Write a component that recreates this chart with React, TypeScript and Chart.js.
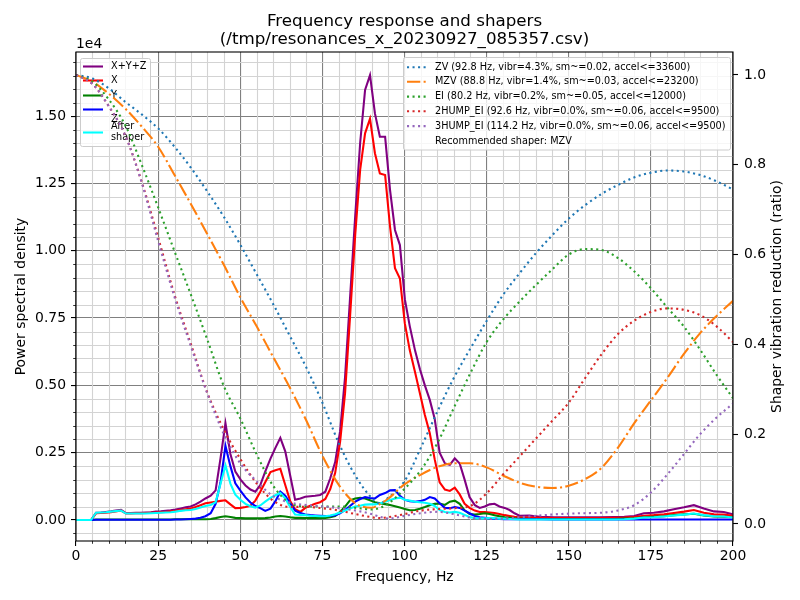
import React, { useEffect, useRef } from 'react';
import { Chart, registerables } from 'chart.js';

Chart.register(...registerables);

const FONT = "'DejaVu Sans', 'Liberation Sans', sans-serif";

// Frequency bins (Hz) of the measured spectra
const FREQS = [
  0, 1.5, 3.0, 4.6, 6.1, 7.6, 9.1, 10.6, 12.1, 13.7,
  15.2, 16.7, 18.2, 19.7, 21.2, 22.8, 24.3, 25.8, 27.3, 28.8,
  30.3, 31.9, 33.4, 34.9, 36.4, 37.9, 39.4, 41.0, 42.5, 44.0,
  45.5, 47.0, 48.5, 50.1, 51.6, 53.1, 54.6, 56.1, 57.6, 59.2,
  60.7, 62.2, 63.7, 65.2, 66.7, 68.3, 69.8, 71.3, 72.8, 74.3,
  75.9, 77.4, 78.9, 80.4, 81.9, 83.4, 85.0, 86.5, 88.0, 89.5,
  91.0, 92.5, 94.1, 95.6, 97.1, 98.6, 100.1, 101.6, 103.2, 104.7,
  106.2, 107.7, 109.2, 110.7, 112.3, 113.8, 115.3, 116.8, 118.3, 119.8,
  121.4, 122.9, 124.4, 125.9, 127.4, 128.9, 130.5, 132.0, 133.5, 135.0,
  138.0, 141.1, 145.6, 150.2, 154.7, 159.3, 163.8, 166.9, 169.9, 172.9,
  175.9, 179.0, 182.0, 185.1, 188.1, 191.1, 194.2, 197.2, 200.2,
];

// Power spectral density, in units of 1e4
const PSD_XYZ = [
  0, 0, 0, 0, 0.027, 0.028, 0.030, 0.032, 0.035, 0.038,
  0.026, 0.026, 0.027, 0.027, 0.028, 0.029, 0.031, 0.032, 0.034, 0.036,
  0.039, 0.043, 0.047, 0.050, 0.058, 0.068, 0.080, 0.090, 0.110, 0.230,
  0.359, 0.245, 0.180, 0.150, 0.128, 0.113, 0.105, 0.130, 0.180, 0.228,
  0.268, 0.305, 0.255, 0.165, 0.075, 0.080, 0.086, 0.088, 0.090, 0.093,
  0.105, 0.155, 0.215, 0.330, 0.530, 0.820, 1.130, 1.400, 1.597, 1.652,
  1.510, 1.423, 1.423, 1.225, 1.077, 1.021, 0.820, 0.720, 0.630, 0.560,
  0.500, 0.446, 0.375, 0.250, 0.210, 0.205, 0.229, 0.210, 0.150, 0.085,
  0.055, 0.045, 0.050, 0.058, 0.060, 0.050, 0.045, 0.037, 0.025, 0.016,
  0.017, 0.012, 0.010, 0.010, 0.010, 0.010, 0.011, 0.012, 0.015, 0.025,
  0.027, 0.032, 0.040, 0.047, 0.055, 0.043, 0.032, 0.030, 0.020,
];

const PSD_X = [
  0, 0, 0, 0, 0.025, 0.026, 0.027, 0.029, 0.032, 0.035,
  0.024, 0.024, 0.025, 0.025, 0.026, 0.027, 0.028, 0.029, 0.030, 0.032,
  0.034, 0.037, 0.040, 0.043, 0.048, 0.055, 0.062, 0.065, 0.068, 0.071,
  0.073, 0.058, 0.044, 0.045, 0.048, 0.053, 0.072, 0.105, 0.140, 0.178,
  0.185, 0.190, 0.130, 0.070, 0.040, 0.030, 0.045, 0.053, 0.060, 0.066,
  0.078, 0.115, 0.175, 0.290, 0.470, 0.750, 1.060, 1.300, 1.436, 1.490,
  1.362, 1.287, 1.281, 1.089, 0.935, 0.897, 0.730, 0.631, 0.550, 0.470,
  0.390, 0.322, 0.225, 0.140, 0.113, 0.108, 0.120, 0.095, 0.060, 0.045,
  0.035, 0.030, 0.030, 0.028, 0.026, 0.022, 0.018, 0.015, 0.012, 0.010,
  0.009, 0.008, 0.007, 0.007, 0.007, 0.007, 0.008, 0.009, 0.011, 0.016,
  0.018, 0.021, 0.026, 0.031, 0.037, 0.027, 0.021, 0.020, 0.015,
];

const PSD_Y = [
  0, 0, 0, 0, 0.002, 0.002, 0.002, 0.002, 0.002, 0.002,
  0.002, 0.002, 0.002, 0.002, 0.002, 0.002, 0.002, 0.002, 0.002, 0.002,
  0.003, 0.003, 0.003, 0.003, 0.003, 0.003, 0.003, 0.004, 0.007, 0.011,
  0.014, 0.011, 0.008, 0.007, 0.006, 0.006, 0.006, 0.006, 0.007, 0.009,
  0.013, 0.015, 0.013, 0.010, 0.008, 0.008, 0.007, 0.007, 0.007, 0.007,
  0.008, 0.010, 0.015, 0.030, 0.050, 0.073, 0.080, 0.082, 0.080, 0.073,
  0.066, 0.062, 0.059, 0.056, 0.051, 0.046, 0.041, 0.036, 0.037, 0.042,
  0.048, 0.055, 0.060, 0.061, 0.056, 0.068, 0.072, 0.060, 0.036, 0.022,
  0.020, 0.022, 0.025, 0.022, 0.018, 0.014, 0.010, 0.008, 0.006, 0.005,
  0.004, 0.004, 0.004, 0.004, 0.004, 0.004, 0.004, 0.005, 0.006, 0.010,
  0.012, 0.014, 0.018, 0.021, 0.023, 0.017, 0.013, 0.012, 0.010,
];

const PSD_Z = [
  0, 0, 0, 0, 0.001, 0.001, 0.001, 0.001, 0.001, 0.001,
  0.001, 0.001, 0.001, 0.001, 0.001, 0.001, 0.001, 0.001, 0.001, 0.001,
  0.002, 0.002, 0.003, 0.004, 0.005, 0.008, 0.014, 0.025, 0.060, 0.140,
  0.275, 0.200, 0.136, 0.108, 0.084, 0.065, 0.052, 0.044, 0.034, 0.042,
  0.070, 0.105, 0.090, 0.062, 0.035, 0.026, 0.020, 0.018, 0.017, 0.016,
  0.015, 0.015, 0.018, 0.025, 0.037, 0.052, 0.068, 0.078, 0.085, 0.082,
  0.080, 0.093, 0.100, 0.110, 0.111, 0.090, 0.075, 0.070, 0.068, 0.070,
  0.075, 0.085, 0.080, 0.062, 0.045, 0.044, 0.048, 0.045, 0.035, 0.025,
  0.015, 0.010, 0.008, 0.006, 0.005, 0.004, 0.003, 0.003, 0.003, 0.003,
  0.003, 0.003, 0.002, 0.002, 0.002, 0.002, 0.002, 0.002, 0.002, 0.002,
  0.002, 0.002, 0.002, 0.002, 0.002, 0.002, 0.002, 0.002, 0.002,
];

const PSD_SHAPED = [
  0, 0, 0, 0, 0.027, 0.028, 0.029, 0.031, 0.033, 0.035,
  0.024, 0.024, 0.024, 0.024, 0.024, 0.025, 0.026, 0.027, 0.028, 0.029,
  0.031, 0.034, 0.036, 0.037, 0.041, 0.046, 0.052, 0.056, 0.066, 0.135,
  0.203, 0.135, 0.094, 0.074, 0.060, 0.051, 0.046, 0.054, 0.068, 0.082,
  0.092, 0.100, 0.080, 0.048, 0.020, 0.019, 0.018, 0.016, 0.015, 0.014,
  0.014, 0.017, 0.021, 0.028, 0.035, 0.043, 0.050, 0.053, 0.057, 0.058,
  0.058, 0.061, 0.068, 0.074, 0.080, 0.083, 0.075, 0.072, 0.068, 0.066,
  0.064, 0.060, 0.052, 0.037, 0.030, 0.028, 0.030, 0.027, 0.019, 0.011,
  0.007, 0.006, 0.006, 0.007, 0.007, 0.005, 0.005, 0.004, 0.003, 0.002,
  0.002, 0.002, 0.002, 0.002, 0.002, 0.002, 0.002, 0.003, 0.005, 0.009,
  0.010, 0.013, 0.017, 0.020, 0.024, 0.018, 0.014, 0.013, 0.009,
];

// Frequencies (Hz) at which the shaper responses are listed
const SHAPER_FREQS = [
  0, 5, 10, 15, 20, 25, 30, 35, 40, 45,
  50, 55, 60, 65, 70, 75, 80, 85, 90, 92.5,
  95, 100, 105, 110, 115, 120, 125, 130, 135, 140,
  145, 150, 155, 160, 165, 170, 175, 180, 185, 190,
  195, 200,
];

// Remaining vibration ratio of each input shaper
const ZV_VALS = [
  1.000, 0.992, 0.970, 0.940, 0.912, 0.881, 0.840, 0.793, 0.740, 0.684,
  0.622, 0.556, 0.490, 0.420, 0.350, 0.270, 0.180, 0.108, 0.058, 0.046,
  0.058, 0.095, 0.170, 0.250, 0.325, 0.390, 0.452, 0.510, 0.558, 0.603,
  0.643, 0.680, 0.710, 0.735, 0.755, 0.772, 0.782, 0.787, 0.785, 0.777,
  0.763, 0.745,
];
const MZV_VALS = [
  1.000, 0.985, 0.958, 0.925, 0.885, 0.840, 0.777, 0.712, 0.645, 0.577,
  0.505, 0.440, 0.372, 0.305, 0.232, 0.152, 0.087, 0.046, 0.036, 0.044,
  0.056, 0.088, 0.110, 0.127, 0.135, 0.135, 0.126, 0.108, 0.092, 0.083,
  0.080, 0.085, 0.100, 0.125, 0.170, 0.225, 0.275, 0.325, 0.378, 0.425,
  0.463, 0.497,
];
const EI_VALS = [
  1.000, 0.985, 0.945, 0.888, 0.800, 0.705, 0.607, 0.510, 0.410, 0.307,
  0.235, 0.155, 0.085, 0.047, 0.039, 0.039, 0.039, 0.036, 0.032, 0.036,
  0.045, 0.078, 0.120, 0.180, 0.258, 0.335, 0.405, 0.455, 0.495, 0.532,
  0.567, 0.600, 0.612, 0.610, 0.592, 0.562, 0.525, 0.482, 0.440, 0.388,
  0.332, 0.280,
];
const HUMP2_VALS = [
  1.000, 0.980, 0.930, 0.865, 0.762, 0.638, 0.510, 0.400, 0.292, 0.210,
  0.145, 0.090, 0.052, 0.038, 0.038, 0.035, 0.030, 0.022, 0.015, 0.013,
  0.015, 0.022, 0.030, 0.033, 0.035, 0.040, 0.068, 0.110, 0.150, 0.190,
  0.230, 0.270, 0.325, 0.378, 0.423, 0.453, 0.472, 0.480, 0.477, 0.465,
  0.440, 0.405,
];
const HUMP3_VALS = [
  1.000, 0.980, 0.930, 0.865, 0.760, 0.630, 0.505, 0.395, 0.290, 0.200,
  0.135, 0.095, 0.062, 0.048, 0.042, 0.039, 0.035, 0.030, 0.022, 0.016,
  0.012, 0.018, 0.024, 0.027, 0.022, 0.014, 0.011, 0.012, 0.015, 0.018,
  0.021, 0.023, 0.024, 0.025, 0.030, 0.042, 0.070, 0.110, 0.155, 0.200,
  0.237, 0.268,
];

const TITLE_LINES = ['Frequency response and shapers', '(/tmp/resonances_x_20230927_085357.csv)'];
const X_LABEL = 'Frequency, Hz';
const Y_LABEL = 'Power spectral density';
const Y2_LABEL = 'Shaper vibration reduction (ratio)';
const RECOMMENDED = 'Recommended shaper: MZV';

const X_TICKS = [0, 25, 50, 75, 100, 125, 150, 175, 200];
const Y_TICKS = [0, 0.25, 0.5, 0.75, 1.0, 1.25, 1.5];
const Y2_TICKS = [0, 0.2, 0.4, 0.6, 0.8, 1.0];

const DOT = [2.08, 3.44];
const DASH_DOT = [13.3, 3.3, 2.08, 3.3];

const PSD_SERIES = [
  { label: 'X+Y+Z', values: PSD_XYZ, color: '#800080' },
  { label: 'X', values: PSD_X, color: '#ff0000' },
  { label: 'Y', values: PSD_Y, color: '#008000' },
  { label: 'Z', values: PSD_Z, color: '#0000ff' },
  { label: 'After\nshaper', values: PSD_SHAPED, color: '#00ffff' },
];

const SHAPER_SERIES = [
  { label: 'ZV (92.8 Hz, vibr=4.3%, sm~=0.02, accel<=33600)', values: ZV_VALS, color: '#1f77b4', dash: DOT },
  { label: 'MZV (88.8 Hz, vibr=1.4%, sm~=0.03, accel<=23200)', values: MZV_VALS, color: '#ff7f0e', dash: DASH_DOT },
  { label: 'EI (80.2 Hz, vibr=0.2%, sm~=0.05, accel<=12000)', values: EI_VALS, color: '#2ca02c', dash: DOT },
  { label: '2HUMP_EI (92.6 Hz, vibr=0.0%, sm~=0.06, accel<=9500)', values: HUMP2_VALS, color: '#d62728', dash: DOT },
  { label: '3HUMP_EI (114.2 Hz, vibr=0.0%, sm~=0.06, accel<=9500)', values: HUMP3_VALS, color: '#9467bd', dash: DOT },
];

const LINE_W = 2.08;

function seg(ctx: CanvasRenderingContext2D, x1: number, y1: number, x2: number, y2: number,
  color: string, width: number, dash: number[] = []) {
  ctx.save();
  ctx.beginPath();
  ctx.setLineDash(dash);
  ctx.lineCap = 'butt';
  ctx.strokeStyle = color;
  ctx.lineWidth = width;
  ctx.moveTo(x1, y1);
  ctx.lineTo(x2, y2);
  ctx.stroke();
  ctx.restore();
}

function legendFrame(ctx: CanvasRenderingContext2D, x: number, y: number, w: number, h: number) {
  ctx.save();
  ctx.beginPath();
  ctx.roundRect(x, y, w, h, 2);
  ctx.fillStyle = 'rgba(255,255,255,0.8)';
  ctx.fill();
  ctx.strokeStyle = '#cccccc';
  ctx.lineWidth = 1;
  ctx.stroke();
  ctx.restore();
}

function text(ctx: CanvasRenderingContext2D, s: string, x: number, y: number, size: number,
  align: CanvasTextAlign = 'left', rotate = 0) {
  ctx.save();
  ctx.font = `${size}px ${FONT}`;
  ctx.fillStyle = '#000';
  ctx.textAlign = align;
  ctx.textBaseline = 'middle';
  ctx.translate(x, y);
  if (rotate) ctx.rotate(rotate);
  ctx.fillText(s, 0, 0);
  ctx.restore();
}

const LEGEND_FONT = 9.7;

function drawPsdLegend(ctx: CanvasRenderingContext2D) {
  legendFrame(ctx, 80.5, 58.5, 70, 88);
  const lineY = [66.5, 80.5, 95.5, 109.5, 132.5];
  PSD_SERIES.forEach((s, i) => {
    seg(ctx, 83, lineY[i], 103, lineY[i], s.color, LINE_W);
  });
  text(ctx, 'X+Y+Z', 111, 66, LEGEND_FONT);
  text(ctx, 'X', 111, 80, LEGEND_FONT);
  text(ctx, 'Y', 111, 95, LEGEND_FONT);
  text(ctx, 'Z', 111, 119, LEGEND_FONT);
  const [a, b] = PSD_SERIES[4].label.split('\n');
  text(ctx, a, 111, 126, LEGEND_FONT);
  text(ctx, b, 111, 137, LEGEND_FONT);
}

function drawShaperLegend(ctx: CanvasRenderingContext2D) {
  legendFrame(ctx, 403.5, 57.5, 327, 92.5);
  const rowY = [67.3, 81.8, 96.6, 111.3, 126.1];
  SHAPER_SERIES.forEach((s, i) => {
    seg(ctx, 407, rowY[i], 428, rowY[i], s.color, LINE_W, s.dash);
    text(ctx, s.label, 435, rowY[i], LEGEND_FONT);
  });
  text(ctx, RECOMMENDED, 435, 141.2, LEGEND_FONT);
}

const decorations = {
  id: 'decorations',
  beforeDatasetsDraw(chart: any) {
    const { ctx, chartArea: a, scales } = chart;
    const xs = scales.x;
    const ys = scales.y;
    ctx.save();
    // minor grid: every 5 Hz and every 0.05 of the PSD axis
    for (let f = 5; f < 200; f += 5) {
      if (f % 25 === 0) continue;
      const px = Math.round(xs.getPixelForValue(f)) + 0.5;
      seg(ctx, px, a.top, px, a.bottom, '#d3d3d3', 1.1);
      seg(ctx, px, a.bottom, px, a.bottom + 2.8, '#000', 0.8);
    }
    for (let k = -1; k <= 34; k++) {
      if (k % 5 === 0) continue;
      const v = k * 0.05;
      const py = Math.round(ys.getPixelForValue(v)) + 0.5;
      if (py < a.top || py > a.bottom) continue;
      seg(ctx, a.left, py, a.right, py, '#d3d3d3', 1.1);
      seg(ctx, a.left - 2.8, py, a.left, py, '#000', 0.8);
    }
    ctx.restore();
  },
  afterDatasetDraw(chart: any, args: any) {
    // the PSD legend sits above the spectra but under the shaper curves
    if (args.index === PSD_SERIES.length - 1) drawPsdLegend(chart.ctx);
  },
  afterDatasetsDraw(chart: any) {
    const { ctx, chartArea: a } = chart;
    ctx.save();
    ctx.strokeStyle = '#000';
    ctx.lineWidth = 1.1;
    ctx.strokeRect(a.left, a.top, a.right - a.left, a.bottom - a.top);
    ctx.restore();
    drawShaperLegend(ctx);
  },
  afterDraw(chart: any) {
    const { ctx, chartArea: a } = chart;
    const cx = (a.left + a.right) / 2;
    const cy = (a.top + a.bottom) / 2;
    text(ctx, TITLE_LINES[0], cx, 22, 16.7, 'center');
    text(ctx, TITLE_LINES[1], cx, 40, 16.7, 'center');
    text(ctx, '1e4', a.left, 44, 13.9, 'left');
    text(ctx, X_LABEL, cx, 577, 13.9, 'center');
    text(ctx, Y_LABEL, 21, cy, 13.9, 'center', -Math.PI / 2);
    text(ctx, Y2_LABEL, 777, cy, 13.9, 'center', -Math.PI / 2);
  },
};

const tickFont = { family: FONT, size: 13.9 };

export default function App() {
  const ref = useRef<HTMLCanvasElement>(null);

  useEffect(() => {
    if (!ref.current) return;
    const psdSets = PSD_SERIES.map((s, i) => ({
      label: s.label,
      data: FREQS.map((f, j) => ({ x: f, y: s.values[j] })),
      borderColor: s.color,
      backgroundColor: s.color,
      borderWidth: LINE_W,
      pointRadius: 0,
      tension: 0,
      fill: false,
      yAxisID: 'y',
      order: 10 - i,
      clip: 0,
    }));
    const shaperSets = SHAPER_SERIES.map((s, i) => ({
      label: s.label,
      data: SHAPER_FREQS.map((f, j) => ({ x: f, y: s.values[j] })),
      borderColor: s.color,
      backgroundColor: s.color,
      borderWidth: LINE_W,
      borderDash: s.dash,
      pointRadius: 0,
      cubicInterpolationMode: 'monotone',
      fill: false,
      yAxisID: 'y2',
      order: 5 - i,
      clip: 0,
    }));

    const chart = new Chart(ref.current, {
      type: 'line',
      data: { datasets: [...psdSets, ...shaperSets] as any },
      plugins: [decorations],
      options: {
        responsive: false,
        animation: false,
        devicePixelRatio: 1,
        events: [],
        parsing: false,
        layout: { autoPadding: false, padding: { top: 52, left: 0, right: 0, bottom: 0 } },
        plugins: {
          legend: { display: false },
          title: { display: false },
          tooltip: { enabled: false },
        },
        scales: {
          x: {
            type: 'linear',
            position: 'bottom',
            min: 0,
            max: 200,
            afterBuildTicks: (s: any) => { s.ticks = X_TICKS.map((v) => ({ value: v })); },
            afterFit: (s: any) => { s.height = 59; },
            border: { display: false },
            grid: { color: '#808080', lineWidth: 1.1, tickLength: 5, tickColor: '#000', tickWidth: 1.1 },
            ticks: { font: tickFont, color: '#000', padding: 2, maxRotation: 0, autoSkip: false, callback: (v: any) => String(v) },
          },
          y: {
            type: 'linear',
            position: 'left',
            min: -0.078,
            max: 1.738,
            afterBuildTicks: (s: any) => { s.ticks = Y_TICKS.map((v) => ({ value: v })); },
            afterFit: (s: any) => { s.width = 76; },
            border: { display: false },
            grid: { color: '#808080', lineWidth: 1.1, tickLength: 5, tickColor: '#000', tickWidth: 1.1 },
            ticks: { font: tickFont, color: '#000', padding: 5, autoSkip: false, callback: (v: any) => Number(v).toFixed(2) },
          },
          y2: {
            type: 'linear',
            position: 'right',
            min: -0.038,
            max: 1.051,
            afterBuildTicks: (s: any) => { s.ticks = Y2_TICKS.map((v) => ({ value: v })); },
            afterFit: (s: any) => { s.width = 67; },
            border: { display: false },
            grid: { drawOnChartArea: false, tickLength: 5, tickColor: '#000', tickWidth: 1.1 },
            ticks: { font: tickFont, color: '#000', padding: 6, autoSkip: false, callback: (v: any) => Number(v).toFixed(1) },
          },
        },
      } as any,
    });
    return () => chart.destroy();
  }, []);

  return (
    <div style={{ position: 'absolute', left: 0, top: 0, width: 800, height: 600, background: '#fff' }}>
      <canvas ref={ref} width={800} height={600} style={{ width: 800, height: 600, display: 'block' }} />
    </div>
  );
}
